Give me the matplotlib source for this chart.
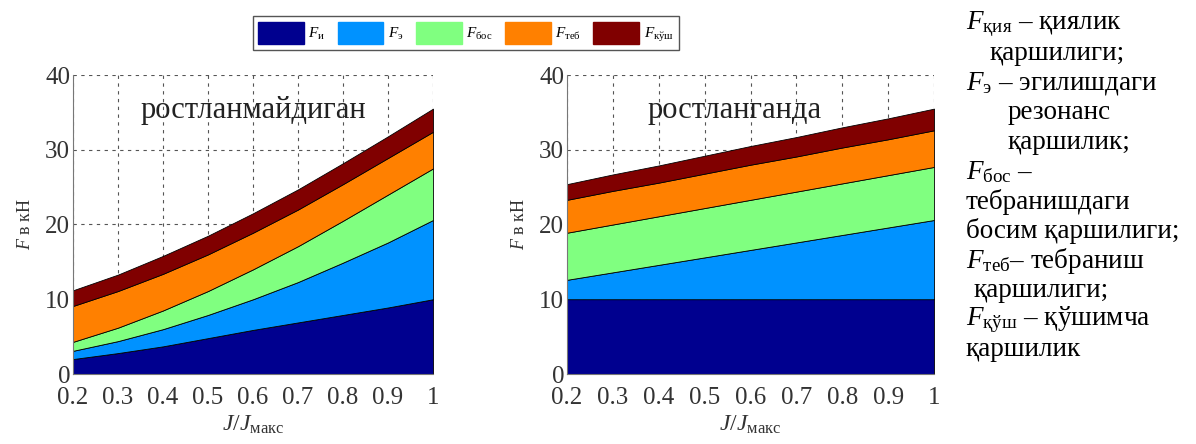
import numpy as np
import matplotlib
matplotlib.use('Agg')
import matplotlib.pyplot as plt
from matplotlib.patches import Patch

plt.rcParams['font.family'] = ['Liberation Serif', 'DejaVu Serif']
plt.rcParams['mathtext.fontset'] = 'custom'
plt.rcParams['mathtext.rm'] = 'Liberation Serif'
plt.rcParams['mathtext.it'] = 'Liberation Serif:italic'
plt.rcParams['mathtext.fallback'] = 'stix'

x = [0.2, 0.3, 0.4, 0.5, 0.6, 0.7, 0.8, 0.9, 1.0]
x_labels = ['0.2', '0.3', '0.4', '0.5', '0.6', '0.7', '0.8', '0.9', '1']
y_ticks = [0, 10, 20, 30, 40]

# ростланмайдиган
left_i = [2.0, 2.8, 3.7, 4.8, 5.9, 6.9, 7.9, 8.9, 10.0]
left_e = [1.1, 1.6, 2.3, 3.1, 4.1, 5.4, 7.0, 8.7, 10.6]
left_bos = [1.2, 1.8, 2.5, 3.2, 4.0, 4.8, 5.6, 6.4, 6.9]
left_teb = [4.8, 4.9, 4.9, 4.9, 4.9, 4.9, 4.9, 4.9, 4.9]
left_kush = [2.1, 2.2, 2.4, 2.5, 2.6, 2.7, 2.8, 2.9, 3.1]

# ростланганда
right_i = [10.0, 10.0, 10.0, 10.0, 10.0, 10.0, 10.0, 10.0, 10.0]
right_e = [2.6, 3.6, 4.6, 5.6, 6.6, 7.6, 8.6, 9.6, 10.6]
right_bos = [6.3, 6.4, 6.5, 6.6, 6.7, 6.8, 6.9, 7.0, 7.1]
right_teb = [4.4, 4.5, 4.5, 4.6, 4.7, 4.7, 4.8, 4.8, 4.9]
right_kush = [2.1, 2.2, 2.3, 2.4, 2.5, 2.6, 2.7, 2.8, 2.9]

legend_labels = [r'$F_{\mathrm{и}}$', r'$F_{\mathrm{э}}$', r'$F_{\mathrm{бос}}$',
                 r'$F_{\mathrm{теб}}$', r'$F_{\mathrm{кўш}}$']
colors = ['#00008F', '#0092FF', '#80FF80', '#FF8000', '#800000']

note_lines = [
    (r'$F_{\mathrm{қия}}$ – қиялик', 0),
    ('қаршилиги;', 24),
    (r'$F_{\mathrm{э}}$ – эгилишдаги', 0),
    ('резонанс', 42),
    ('қаршилик;', 42),
    (r'$F_{\mathrm{бос}}$ –', 0),
    ('тебранишдаги', 0),
    ('босим қаршилиги;', 0),
    (r'$F_{\mathrm{теб}}$– тебраниш', 0),
    ('қаршилиги;', 8),
    (r'$F_{\mathrm{қўш}}$ – қўшимча', 0),
    ('қаршилик', 0),
]

W, H = 1196, 444
fig = plt.figure(figsize=(W / 100, H / 100), dpi=100)
ax1 = fig.add_axes([73 / W, 70 / H, 360 / W, 299 / H])
ax2 = fig.add_axes([567 / W, 70 / H, 367 / W, 299 / H])


def draw_panel(ax, series, title, title_x):
    ax.set_axisbelow(True)
    ax.grid(True, color='#555555', linestyle=(0, (3, 4)), linewidth=0.8)
    ax.stackplot(x, *series, colors=colors, edgecolor='black', linewidth=0.6)
    ax.set_xlim(0.2, 1.0)
    ax.set_ylim(0, 40)
    ax.set_xticks(x)
    ax.set_xticklabels(x_labels)
    ax.set_yticks(y_ticks)
    ax.tick_params(length=0, labelsize=18, labelcolor='#333333')
    ax.tick_params(axis='x', pad=9)
    ax.tick_params(axis='y', pad=2)
    for s in ['top', 'right']:
        ax.spines[s].set_visible(False)
    ax.spines['left'].set_color('#777777')
    ax.spines['bottom'].set_color('#777777')
    ax.set_xlabel(r'$J/J_{\mathrm{макс}}$', fontsize=17, color='#333333', labelpad=4)
    ax.set_ylabel(r'$F$ в кН', fontsize=13, color='#333333', labelpad=8)
    ax.text(title_x, 35.3, title, fontsize=22, color='#222222', ha='center', va='center')


draw_panel(ax1, [left_i, left_e, left_bos, left_teb, left_kush], 'ростланмайдиган', 0.60)
draw_panel(ax2, [right_i, right_e, right_bos, right_teb, right_kush], 'ростланганда', 0.565)

handles = [Patch(facecolor=c, edgecolor=c) for c in colors]
fig.legend(handles, legend_labels, loc='center', bbox_to_anchor=(466 / W, 1 - 33 / H),
           ncol=5, fontsize=11, handlelength=3.0, handleheight=1.9, columnspacing=0.8,
           handletextpad=0.3, fancybox=False, edgecolor='#555555', framealpha=1,
           borderpad=0.35)

for i, (line, indent) in enumerate(note_lines):
    fig.text(966 / W + indent / W, 1 - (24 + i * 29.6) / H, line, fontsize=19.5,
             ha='left', va='center', color='black')

fig.savefig('out.png', dpi=100)
